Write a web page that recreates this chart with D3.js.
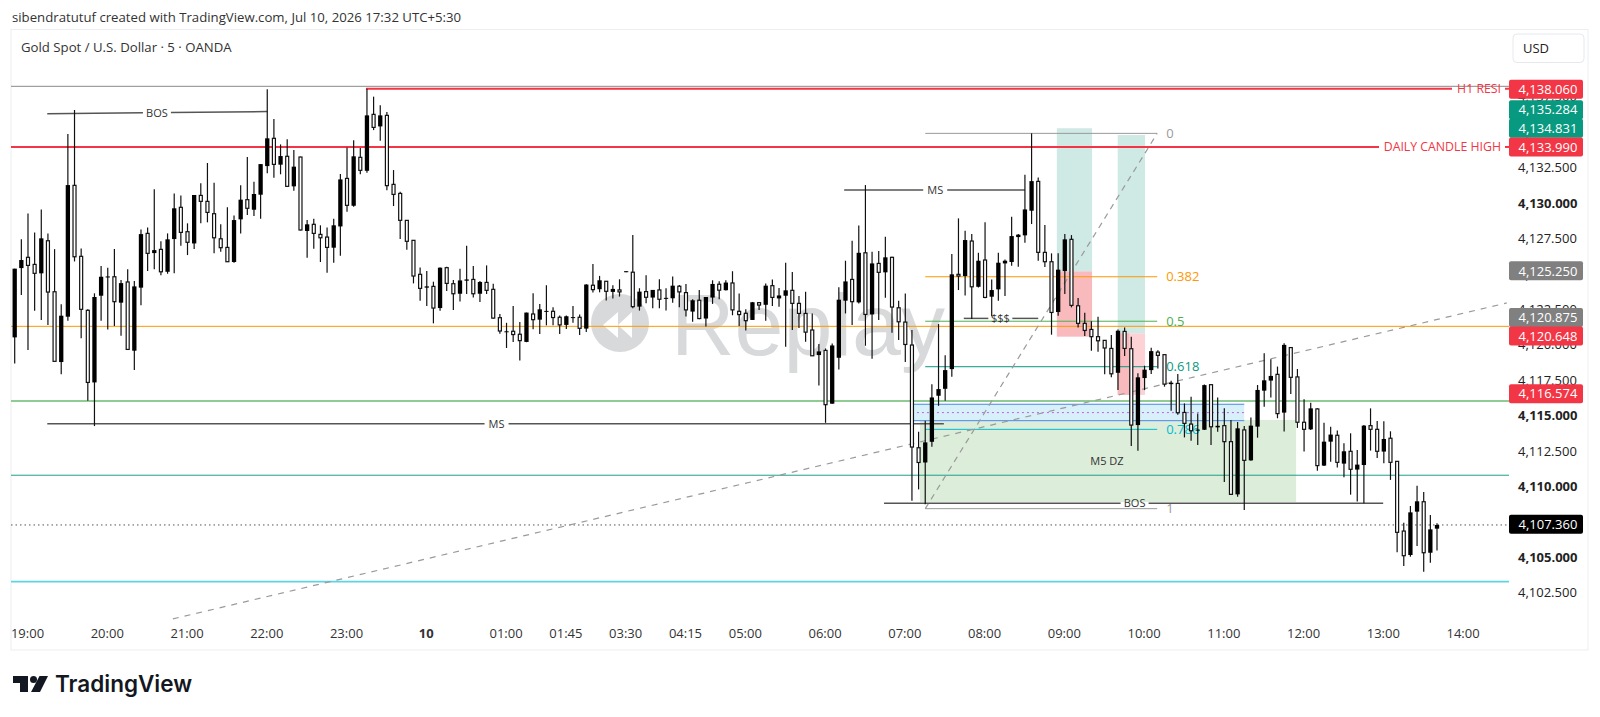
<!DOCTYPE html>
<html>
<head>
<meta charset="utf-8">
<title>Gold Spot / U.S. Dollar</title>
<script src="https://cdn.jsdelivr.net/npm/d3@7"></script>
<style>
  body { margin: 0; background: #fff; overflow: hidden; }
  text { font-family: "Open Sans", "Noto Sans", sans-serif; }
</style>
</head>
<body>
<div id="chart"></div>
<script>
// candle values, one entry per 5 minute bar
var opens = [
  4120.48,4125.37,4126.13,4125.63,4125.00,4127.30,4123.70,4118.74,4121.94,4131.21,
  4126.20,4122.39,4117.30,4123.42,4124.74,4124.76,4122.93,4124.39,4119.54,4123.99,
  4127.82,4126.43,4126.69,4125.11,4127.42,4129.66,4127.94,4127.11,4130.50,4130.08,
  4129.21,4127.44,4126.83,4125.80,4128.81,4130.20,4129.49,4130.55,4132.57,4134.53,
  4132.67,4133.26,4131.14,4133.21,4127.99,4128.46,4127.75,4127.56,4126.81,4128.31,
  4131.70,4129.77,4133.19,4132.24,4136.22,4135.37,4136.15,4131.28,4130.64,4128.74,
  4127.33,4124.93,4123.99,4124.08,4122.55,4125.40,4124.27,4123.56,4124.48,4124.57,
  4123.56,4124.36,4123.87,4121.87,4120.85,4120.91,4120.70,4120.16,4122.13,4121.73,
  4122.29,4122.32,4121.90,4121.36,4121.85,4121.90,4121.10,4124.16,4123.88,4124.44,
  4123.69,4123.83,4125.08,4125.08,4122.65,4123.71,4123.29,4123.83,4123.21,4123.24,
  4124.09,4123.64,4122.30,4123.10,4121.81,4123.29,4124.23,4123.81,4124.32,4122.32,
  4122.18,4121.71,4122.93,4122.78,4124.13,4123.23,4123.42,4123.80,4122.88,4122.17,
  4121.00,4119.23,4119.56,4115.80,4119.04,4123.07,4124.57,4122.95,4126.45,4122.10,
  4125.70,4125.07,4126.13,4122.57,4121.56,4119.94,4112.69,4111.65,4113.11,4116.36,
  4116.85,4118.24,4124.93,4124.81,4127.28,4124.05,4125.94,4123.35,4123.87,4125.70,
  4125.80,4127.56,4127.68,4129.42,4131.49,4126.48,4125.82,4122.27,4125.16,4127.40,
  4122.71,4121.47,4121.04,4120.53,4120.27,4119.70,4117.98,4120.90,4119.68,4114.29,
  4117.61,4118.17,4119.44,4119.26,4117.18,4117.23,4115.18,4114.36,4113.91,4113.96,
  4117.14,4114.13,4114.25,4113.12,4109.40,4113.95,4111.80,4114.18,4116.72,4117.43,
  4117.87,4115.17,4119.76,4117.69,4114.49,4113.99,4115.43,4111.43,4113.12,4113.57,
  4111.57,4112.44,4111.15,4111.47,4114.25,4113.99,4112.42,4113.36,4111.73,4106.81,
  4105.12,4108.18,4108.88,4105.28,4106.98
];
var highs = [
  4125.33,4127.40,4129.23,4127.89,4129.51,4127.82,4126.71,4122.81,4134.83,4136.53,
  4126.76,4122.46,4123.59,4125.51,4125.40,4126.71,4124.53,4125.28,4124.46,4128.10,
  4128.24,4130.93,4127.26,4127.82,4130.64,4130.50,4128.53,4130.53,4131.35,4132.79,
  4131.40,4128.46,4129.66,4129.09,4131.21,4133.21,4131.47,4132.71,4137.99,4135.89,
  4134.10,4134.46,4133.70,4133.23,4128.76,4128.86,4128.39,4128.24,4128.86,4132.01,
  4133.89,4134.39,4133.84,4138.03,4137.47,4136.86,4136.39,4132.29,4130.76,4128.76,
  4127.33,4125.42,4125.16,4124.41,4125.42,4125.47,4124.53,4125.33,4126.95,4125.51,
  4124.46,4125.56,4124.27,4122.13,4121.51,4122.70,4121.57,4122.23,4123.59,4122.84,
  4124.16,4122.61,4122.02,4122.02,4122.70,4122.09,4124.23,4125.66,4124.82,4124.46,
  4124.16,4124.58,4125.15,4127.71,4123.95,4124.86,4123.83,4124.58,4123.95,4124.77,
  4124.18,4124.25,4123.17,4123.83,4123.33,4124.51,4124.44,4124.51,4125.15,4123.57,
  4122.46,4122.98,4122.97,4124.29,4124.57,4123.96,4125.75,4125.09,4123.40,4123.70,
  4122.17,4120.01,4119.70,4120.05,4124.01,4125.89,4127.30,4128.38,4131.23,4126.53,
  4126.57,4127.58,4126.17,4123.07,4123.58,4121.00,4113.82,4114.60,4117.18,4121.42,
  4119.21,4126.36,4128.88,4128.01,4127.77,4126.45,4128.60,4124.57,4126.45,4125.98,
  4129.00,4127.77,4131.96,4134.88,4131.77,4128.41,4126.41,4126.41,4127.77,4127.70,
  4123.26,4122.22,4121.61,4121.94,4120.29,4120.64,4121.04,4121.18,4120.53,4117.94,
  4118.48,4119.75,4119.58,4119.28,4117.42,4117.89,4115.82,4116.29,4115.11,4117.16,
  4117.16,4116.24,4115.47,4114.65,4114.51,4114.23,4114.82,4117.12,4119.36,4118.93,
  4118.42,4120.06,4119.78,4118.25,4116.11,4115.87,4115.47,4114.46,4114.18,4113.90,
  4113.00,4113.71,4112.53,4114.30,4115.47,4114.58,4114.56,4113.85,4111.73,4107.40,
  4108.58,4110.01,4109.57,4107.94,4107.36
];
var lows = [
  4118.64,4123.47,4119.59,4122.36,4121.70,4121.35,4118.79,4117.87,4121.66,4125.84,
  4120.41,4116.01,4114.22,4121.66,4121.04,4121.28,4120.60,4119.63,4118.17,4122.74,
  4125.16,4125.28,4124.86,4124.97,4125.00,4126.95,4126.29,4126.71,4128.53,4128.60,
  4126.41,4126.53,4125.82,4125.75,4127.82,4129.11,4129.04,4128.86,4132.06,4131.75,
  4131.99,4131.12,4130.83,4128.03,4126.10,4126.74,4125.80,4125.04,4125.75,4126.24,
  4129.35,4129.70,4131.99,4132.10,4135.11,4134.36,4130.86,4129.75,4127.42,4126.67,
  4124.29,4123.07,4122.69,4121.47,4122.36,4123.75,4122.41,4123.02,4123.54,4123.30,
  4122.97,4123.54,4121.80,4120.74,4119.73,4120.16,4118.84,4120.14,4121.05,4120.72,
  4121.33,4121.33,4120.72,4121.08,4121.52,4120.65,4120.86,4123.64,4123.66,4123.08,
  4123.22,4123.36,4125.08,4122.53,4122.37,4122.89,4122.53,4122.53,4122.37,4122.93,
  4122.61,4121.95,4121.59,4121.76,4121.24,4122.84,4123.17,4123.78,4122.04,4121.29,
  4120.96,4121.71,4122.41,4121.65,4122.69,4122.64,4119.82,4121.00,4121.14,4120.17,
  4119.16,4117.09,4114.45,4115.80,4118.22,4122.17,4121.35,4122.88,4119.89,4118.97,
  4121.70,4123.28,4120.81,4120.29,4118.74,4108.95,4109.75,4108.71,4112.76,4115.65,
  4116.01,4117.70,4123.82,4123.44,4121.77,4124.00,4123.25,4121.98,4123.07,4123.40,
  4125.54,4125.47,4127.16,4128.48,4125.89,4125.44,4120.67,4122.01,4123.54,4122.60,
  4121.18,4120.57,4119.54,4119.47,4117.87,4117.66,4116.76,4119.16,4112.81,4112.48,
  4116.76,4117.89,4118.29,4117.00,4115.30,4115.02,4113.42,4113.18,4112.88,4113.94,
  4112.88,4113.82,4110.27,4109.36,4109.24,4108.30,4111.78,4113.40,4115.59,4116.23,
  4114.77,4113.83,4116.49,4114.09,4112.42,4113.95,4111.07,4111.40,4111.71,4111.29,
  4110.60,4109.38,4108.89,4108.77,4112.49,4111.97,4111.59,4110.42,4105.31,4104.34,
  4105.00,4105.76,4103.94,4104.58,4105.43
];
var closes = [
  4125.33,4125.94,4125.56,4125.00,4127.47,4123.68,4118.79,4122.01,4131.23,4126.17,
  4122.46,4117.30,4123.33,4124.76,4124.78,4123.00,4124.31,4119.63,4124.08,4127.77,
  4126.41,4126.64,4125.11,4127.40,4129.59,4127.89,4127.19,4130.53,4130.08,4129.30,
  4127.51,4126.81,4125.82,4128.76,4130.20,4129.59,4130.60,4132.71,4134.53,4132.69,
  4133.28,4131.14,4132.53,4128.06,4128.46,4127.82,4127.51,4126.83,4128.39,4131.63,
  4129.80,4133.26,4132.27,4136.15,4135.30,4136.15,4131.19,4130.57,4128.74,4127.26,
  4124.81,4123.94,4124.08,4122.55,4125.40,4124.29,4123.56,4124.50,4124.57,4123.56,
  4124.39,4123.80,4121.84,4120.93,4120.91,4120.68,4120.25,4122.23,4121.73,4122.46,
  4122.35,4121.88,4121.36,4121.97,4121.91,4121.12,4124.21,4123.85,4124.51,4123.73,
  4123.90,4123.69,4125.15,4122.65,4123.71,4123.31,4123.83,4123.17,4123.27,4124.13,
  4123.69,4122.42,4123.10,4121.81,4123.33,4124.25,4123.81,4124.35,4122.42,4122.09,
  4121.66,4122.96,4122.76,4124.13,4123.30,4123.44,4123.80,4122.88,4122.17,4120.85,
  4119.18,4119.49,4115.73,4119.91,4123.14,4124.43,4123.00,4126.45,4122.10,4125.70,
  4125.07,4126.13,4122.62,4121.58,4119.98,4112.74,4111.65,4113.07,4116.24,4116.83,
  4118.17,4124.93,4124.81,4127.35,4124.05,4125.89,4123.30,4123.82,4125.75,4125.89,
  4127.63,4127.73,4129.51,4131.51,4126.48,4125.82,4122.24,4125.26,4127.40,4122.74,
  4121.47,4120.97,4120.53,4120.24,4119.73,4117.91,4120.95,4119.70,4114.29,4117.66,
  4118.20,4119.51,4119.21,4117.18,4117.28,4115.16,4114.41,4113.89,4113.97,4117.11,
  4114.17,4114.24,4113.12,4109.40,4114.06,4111.80,4114.25,4116.77,4117.45,4117.76,
  4115.10,4119.95,4117.66,4114.49,4113.99,4115.47,4111.43,4113.12,4113.62,4111.66,
  4112.44,4111.17,4111.50,4114.25,4113.99,4112.44,4113.31,4111.66,4106.72,4105.07,
  4108.13,4108.91,4105.28,4106.93,4107.24
];

// time axis: bar number and the label under it
var timeTickBars = [2,14,26,38,50,62,74,83,92,101,110,122,134,146,158,170,182,194,206,218];
var timeTickLabels = ["19:00","20:00","21:00","22:00","23:00","10","01:00","01:45","03:30","04:15","05:00","06:00","07:00","08:00","09:00","10:00","11:00","12:00","13:00","14:00"];

// price axis
var priceTicks = [4137.5,4135,4132.5,4130,4127.5,4125,4122.5,4120,4117.5,4115,4112.5,4110,4107.5,4105,4102.5];
var boldTicks = [4130,4115,4110,4105];
var badgePrices = [4138.06,4135.284,4134.831,4133.99,4125.25,4120.875,4120.648,4116.574,4107.36];
var badgeKinds = ["red","green","green","red","gray","gray","red","red","black"];

// horizontal levels across the chart
var gridLevels = [4138.20,4121.26,4115.99,4110.75,4107.24,4103.24];

// fibonacci tool
var fibRatios = ["0","0.382","0.5","0.618","0.786","1"];
var fibPrices = [4134.88,4124.76,4121.62,4118.41,4113.99,4108.39];
var fibBars = [137,171.9];

// long dashed trend line [bar, price]
var trendLine = [[23.8,4100.61],[224.5,4122.91]];

// structure lines [bar1, price1, bar2, price2, label, labelBar]
var structures = [
  [4.9,4136.27,38,4136.42,"BOS",21.4],
  [4.9,4114.38,139.8,4114.38,"MS",72.5],
  [124.8,4130.88,152,4130.88,"MS",138.5],
  [130.8,4108.77,205.9,4108.77,"BOS",168.5],
  [142.8,4121.82,154,4121.82,"$$$",148.3]
];

// position tools
var toolBars = [[156.8,162.1],[165.96,170.07]];
var toolPrices = [[4135.24,4125.14,4120.53],[4134.76,4120.77,4116.42]];
// darker overlap inside the second loss area
var overlapBars = [165.96,167.7];

// demand zone and its blue band
var zoneBars = [136.2,192.8];
var zonePrices = [4114.65,4108.86];
var bandBars = [135,185];
var bandPrices = [4115.76,4115.17,4114.60];

var W = 1600, H = 717;
var left = 11, top0 = 29.5, right = 1588, bottom = 650, plotRight = 1509;

var svg = d3.select("#chart").append("svg")
  .attr("width", W)
  .attr("height", H)
  .style("display", "block");

var x = d3.scaleLinear().domain([0, 214]).range([14.7, 1437]);
var y = d3.scaleLinear().domain([4130, 4105]).range([202.5, 556.7]);

var bars = d3.range(opens.length);

// header
svg.append("text").attr("x", 12).attr("y", 22).attr("font-size", 13.2).attr("fill", "#333")
  .text("sibendratutuf created with TradingView.com, Jul 10, 2026 17:32 UTC+5:30");

// frame
svg.append("rect").attr("x", left).attr("y", top0).attr("width", right - left).attr("height", bottom - top0)
  .attr("fill", "#fff").attr("stroke", "#eceef2");

svg.append("text").attr("x", 21).attr("y", 52).attr("font-size", 13.2).attr("fill", "#333")
  .text("Gold Spot / U.S. Dollar \u00b7 5 \u00b7 OANDA");

// replay watermark
var mark = svg.append("g");
mark.append("circle").attr("cx", 620).attr("cy", 323).attr("r", 29).attr("fill", "#d8d9db");
mark.append("path").attr("d", "M603 325l15-13v26zM618 325l14-13v26z").attr("fill", "#fff");
mark.append("text").attr("x", 671).attr("y", 355).attr("font-size", 88)
  .style("font-family", "'Liberation Sans', sans-serif").attr("fill", "#d8d9db").text("Replay");

// demand zone
svg.append("rect")
  .attr("x", x(zoneBars[0])).attr("y", y(zonePrices[0]))
  .attr("width", x(zoneBars[1]) - x(zoneBars[0]))
  .attr("height", y(zonePrices[1]) - y(zonePrices[0]))
  .attr("fill", "#dcedda");

// blue band
svg.append("rect")
  .attr("x", x(bandBars[0])).attr("y", y(bandPrices[0]))
  .attr("width", x(bandBars[1]) - x(bandBars[0]))
  .attr("height", y(bandPrices[2]) - y(bandPrices[0]))
  .attr("fill", "#d8f0fa");
bandPrices.forEach(function(p, i) {
  svg.append("line")
    .attr("x1", x(bandBars[0])).attr("x2", x(bandBars[1]))
    .attr("y1", y(p)).attr("y2", y(p))
    .attr("stroke", i == 1 ? "#c060e0" : "#4a86e8")
    .attr("stroke-width", 1)
    .attr("stroke-dasharray", i == 1 ? "2 3" : null);
});

// position tools, profit part and loss part
toolBars.forEach(function(b, i) {
  var p = toolPrices[i];
  svg.append("rect").attr("x", x(b[0])).attr("y", y(p[0]))
    .attr("width", x(b[1]) - x(b[0])).attr("height", y(p[1]) - y(p[0]))
    .attr("fill", "#cfe9e4");
  svg.append("rect").attr("x", x(b[0])).attr("y", y(p[1]))
    .attr("width", x(b[1]) - x(b[0])).attr("height", y(p[2]) - y(p[1]))
    .attr("fill", i == 0 ? "#f9babe" : "#fcd2d6");
});
svg.append("rect").attr("x", x(overlapBars[0])).attr("y", y(toolPrices[1][1]))
  .attr("width", x(overlapBars[1]) - x(overlapBars[0]))
  .attr("height", y(toolPrices[1][2]) - y(toolPrices[1][1]))
  .attr("fill", "#f9babe");

// levels across the pane
var levelStyle = [
  {c: "#8a8a8a", w: 1},
  {c: "#ff9800", w: 1},
  {c: "#8fcb92", w: 2},
  {c: "#1f9e88", w: 1},
  {c: "#555", w: 1, d: "1.5 3"},
  {c: "#5fd3e6", w: 1.7}
];
gridLevels.forEach(function(p, i) {
  svg.append("line").attr("x1", left).attr("x2", plotRight)
    .attr("y1", y(p)).attr("y2", y(p))
    .attr("stroke", levelStyle[i].c)
    .attr("stroke-width", levelStyle[i].w)
    .attr("stroke-dasharray", levelStyle[i].d || null);
});

// red resistance lines with their text
function redLine(price, x1, x2, label, textEnd) {
  svg.append("line").attr("x1", x1).attr("x2", x2).attr("y1", y(price)).attr("y2", y(price))
    .attr("stroke", "#f23645").attr("stroke-width", 2);
  svg.append("line").attr("x1", textEnd + 4).attr("x2", plotRight).attr("y1", y(price)).attr("y2", y(price))
    .attr("stroke", "#f23645").attr("stroke-width", 2);
  svg.append("text").attr("x", textEnd).attr("y", y(price) + 4.5).attr("text-anchor", "end")
    .attr("font-size", 12.3).attr("fill", "#f23645").text(label);
}
redLine(4138.03, 366, 1452, "H1 RESI", 1501);
redLine(4133.92, left, 1379, "DAILY CANDLE HIGH", 1501);

// fibonacci levels
var fibColors = ["#9a9a9a", "#ff9800", "#4caf50", "#089981", "#00bcd4", "#9a9a9a"];
fibPrices.forEach(function(p, i) {
  svg.append("line").attr("x1", x(fibBars[0])).attr("x2", x(fibBars[1]))
    .attr("y1", y(p)).attr("y2", y(p)).attr("stroke", fibColors[i]);
  svg.append("text").attr("x", x(fibBars[1]) + 9).attr("y", y(p) + 4.5)
    .attr("font-size", 13).attr("fill", fibColors[i]).text(fibRatios[i]);
});

// dashed lines
svg.append("line")
  .attr("x1", x(fibBars[0])).attr("y1", y(fibPrices[5]))
  .attr("x2", x(fibBars[1])).attr("y2", y(fibPrices[0]))
  .attr("stroke", "#9a9a9a").attr("stroke-width", 1.2).attr("stroke-dasharray", "6 5");
svg.append("line")
  .attr("x1", x(trendLine[0][0])).attr("y1", y(trendLine[0][1]))
  .attr("x2", x(trendLine[1][0])).attr("y2", y(trendLine[1][1]))
  .attr("stroke", "#9a9a9a").attr("stroke-width", 1.2).attr("stroke-dasharray", "6 6");

// structure lines, broken around the label
structures.forEach(function(s) {
  var mid = x(s[5]), gap = s[4] == "BOS" ? 14 : 12;
  var slope = (y(s[3]) - y(s[1])) / (x(s[2]) - x(s[0]));
  var yAt = function(px) { return y(s[1]) + (px - x(s[0])) * slope; };
  [[x(s[0]), mid - gap], [mid + gap, x(s[2])]].forEach(function(seg) {
    svg.append("line").attr("x1", seg[0]).attr("x2", seg[1])
      .attr("y1", yAt(seg[0])).attr("y2", yAt(seg[1]))
      .attr("stroke", "#555").attr("stroke-width", 1.5);
  });
  svg.append("text").attr("x", mid).attr("y", yAt(mid) + 4).attr("text-anchor", "middle")
    .attr("font-size", 11).attr("fill", "#333").text(s[4]);
});
svg.append("text").attr("x", 1107).attr("y", 465).attr("text-anchor", "middle")
  .attr("font-size", 11).attr("fill", "#333").text("M5 DZ");

// candles
var candles = svg.append("g");
candles.selectAll("line").data(bars).enter().append("line")
  .attr("x1", i => x(i)).attr("x2", i => x(i))
  .attr("y1", i => y(highs[i])).attr("y2", i => y(lows[i]))
  .attr("stroke", "#111").attr("stroke-width", 1.2);
candles.selectAll("rect").data(bars).enter().append("rect")
  .attr("x", i => x(i) - (closes[i] > opens[i] ? 2.15 : 1.5))
  .attr("width", i => closes[i] > opens[i] ? 4.3 : 3)
  .attr("y", i => y(Math.max(opens[i], closes[i])))
  .attr("height", i => Math.max(1, Math.abs(y(opens[i]) - y(closes[i]))))
  .attr("fill", i => closes[i] > opens[i] ? "#000" : "#fff")
  .attr("stroke", i => closes[i] > opens[i] ? "none" : "#111")
  .attr("stroke-width", 1.2);

// time axis
var timeAxis = d3.axisBottom(x)
  .tickValues(timeTickBars)
  .tickSize(0)
  .tickFormat(function(d, i) { return timeTickLabels[i]; });
var gx = svg.append("g").attr("transform", "translate(-1, 626)").call(timeAxis);
gx.select(".domain").remove();
gx.selectAll("text")
  .attr("font-size", 13)
  .style("font-family", "'Open Sans', sans-serif")
  .attr("fill", "#333")
  .attr("font-weight", function(d, i) { return timeTickLabels[i] == "10" ? 700 : 400; });

// price axis
var priceAxis = d3.axisRight(y)
  .tickValues(priceTicks)
  .tickSize(0)
  .tickFormat(d3.format(",.3f"));
var gy = svg.append("g").attr("transform", "translate(1518, 0.5)").call(priceAxis);
gy.select(".domain").remove();
gy.selectAll("text")
  .attr("x", 0)
  .attr("font-size", 13)
  .style("font-family", "'Open Sans', sans-serif")
  .attr("fill", "#222")
  .attr("font-weight", function(d) { return boldTicks.indexOf(d) >= 0 ? 700 : 400; });

// price badges, pushed apart from the bottom up where they would overlap
var badgeColors = {red: "#f23645", green: "#089981", gray: "#808080", black: "#000"};
var badgeY = badgePrices.map(function(p) { return y(p) + 1; });
for (var i = badgeY.length - 2; i >= 0; i--) {
  if (badgeY[i] + 18.6 > badgeY[i + 1]) badgeY[i] = badgeY[i + 1] - 18.6;
}
var badges = svg.append("g").selectAll("g").data(badgePrices).enter().append("g")
  .attr("transform", function(d, i) { return "translate(1509, " + badgeY[i] + ")"; });
badges.append("rect").attr("x", 0).attr("y", -9.5).attr("width", 74).attr("height", 19).attr("rx", 2)
  .attr("fill", function(d, i) { return badgeColors[badgeKinds[i]]; });
badges.append("text").attr("x", 9.5).attr("y", 4.7)
  .attr("font-size", 13).attr("font-weight", 500).attr("fill", "#fff")
  .text(function(d) { return d3.format(",.3f")(d); });

// currency button
svg.append("rect").attr("x", 1513).attr("y", 34).attr("width", 71).attr("height", 28.5).attr("rx", 4)
  .attr("fill", "#fff").attr("stroke", "#e6e8ee");
svg.append("text").attr("x", 1523).attr("y", 53).attr("font-size", 13).attr("fill", "#222").text("USD");

// footer logo
var logo = svg.append("g").attr("fill", "#131722");
logo.append("path").attr("d", "M13 676H28V692H20V683H13Z");
logo.append("circle").attr("cx", 33.5).attr("cy", 679.5).attr("r", 3.5);
logo.append("path").attr("d", "M39.5 676H48L40 692H31Z");
svg.append("text").attr("x", 55).attr("y", 692).attr("font-size", 22.5).attr("font-weight", 600)
  .style("font-family", "Inter, sans-serif").attr("fill", "#131722").text("TradingView");
</script>
</body>
</html>
